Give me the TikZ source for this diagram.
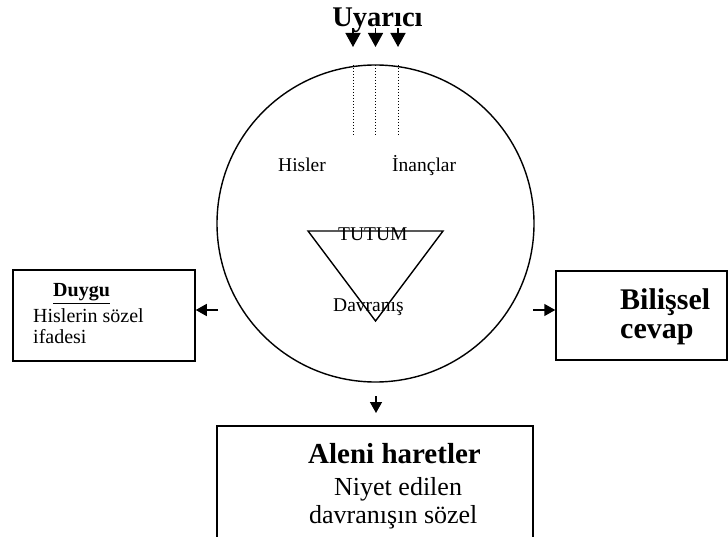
\documentclass[tikz,border=0pt]{standalone}
\usepackage{fontspec}
\setmainfont{Liberation Serif}
\usetikzlibrary{arrows.meta}
\begin{document}
\begin{tikzpicture}[x=1pt,y=-1pt,
  txt/.style={inner sep=0pt,anchor=base west},
  boxstyle/.style={draw,line width=1.5pt},
  bigarrow/.style={-{Triangle[length=14pt,width=15pt]},line width=1.5pt},
  smallarrow/.style={-{Triangle[length=11pt,width=12pt]},line width=1.5pt},
  dotline/.style={dash pattern=on 1pt off 2pt,line width=1pt}]
\useasboundingbox (0,0) rectangle (728,537);
% circle
\node[draw,circle,line width=1.4pt,minimum size=317pt,inner sep=0pt] (circ) at (375.5,223.5) {};
% top stimulus
\node[txt,anchor=base] (uyarici) at (377.5,27) {\fontsize{28.5}{30}\selectfont\bfseries Uyarıcı};
\foreach \i/\x in {1/353,2/375.5,3/398}{
  \coordinate (as\i) at (\x,28);
  \coordinate (ae\i) at (\x,47);
  \coordinate (ds\i) at (\x,65);
  \coordinate (de\i) at (\x,135);
  \draw[bigarrow] (as\i) -- (ae\i);
  \draw[dotline] (ds\i) -- (de\i);
}
% inner texts
\node[txt] (hisler) at (278,172) {\fontsize{19.5}{22}\selectfont Hisler};
\node[txt] (inanclar) at (392,172) {\fontsize{19.5}{22}\selectfont İnançlar};
% triangle
\coordinate (t1) at (308,231);
\coordinate (t2) at (443,231);
\coordinate (t3) at (375.5,321);
\draw[line width=1.4pt,line join=miter] (t1) -- (t2) -- (t3) -- cycle;
\node[txt] (tutum) at (338,241) {\fontsize{19.5}{22}\selectfont TUTUM};
\node[txt] (davranis) at (333,312) {\fontsize{19.5}{22}\selectfont Davranış};
% left box
\node[boxstyle,minimum width=182pt,minimum height=91pt,inner sep=0pt] (leftbox) at (104,315.5) {};
\node[txt] (duygu) at (53,297) {\fontsize{20}{22}\selectfont\bfseries\underline{Duygu}};
\node[txt] (hs) at (33,323) {\fontsize{20}{22}\selectfont Hislerin sözel};
\node[txt] (ifadesi) at (33,343) {\fontsize{20}{22}\selectfont ifadesi};
% right box
\node[boxstyle,minimum width=171pt,minimum height=89pt,inner sep=0pt] (rightbox) at (641.5,315.5) {};
\node[txt] (bilissel) at (620,309) {\fontsize{30}{32}\selectfont\bfseries Bilişsel};
\node[txt] (cevap) at (620,338) {\fontsize{30}{32}\selectfont\bfseries cevap};
% bottom box
\coordinate (bb1) at (217,426);
\coordinate (bb2) at (533,560);
\draw[boxstyle] (bb1) rectangle (bb2);
\node[txt] (aleni) at (308,463) {\fontsize{29}{31}\selectfont\bfseries Aleni haretler};
\node[txt] (niyet) at (334,495) {\fontsize{26}{28}\selectfont Niyet edilen};
\node[txt] (dsoz) at (309,523) {\fontsize{26}{28}\selectfont davranışın sözel};
% arrows
\coordinate (la) at (218,310);
\coordinate (ra) at (533,310);
\coordinate (ba) at (376,396);
\coordinate (ltip) at (leftbox.east |- la);
\coordinate (rtip) at (rightbox.west |- ra);
\coordinate (btip) at (376,413);
\draw[smallarrow] (la) -- (ltip);
\draw[smallarrow] (ra) -- (rtip);
\draw[smallarrow] (ba) -- (btip);
\end{tikzpicture}
\end{document}
